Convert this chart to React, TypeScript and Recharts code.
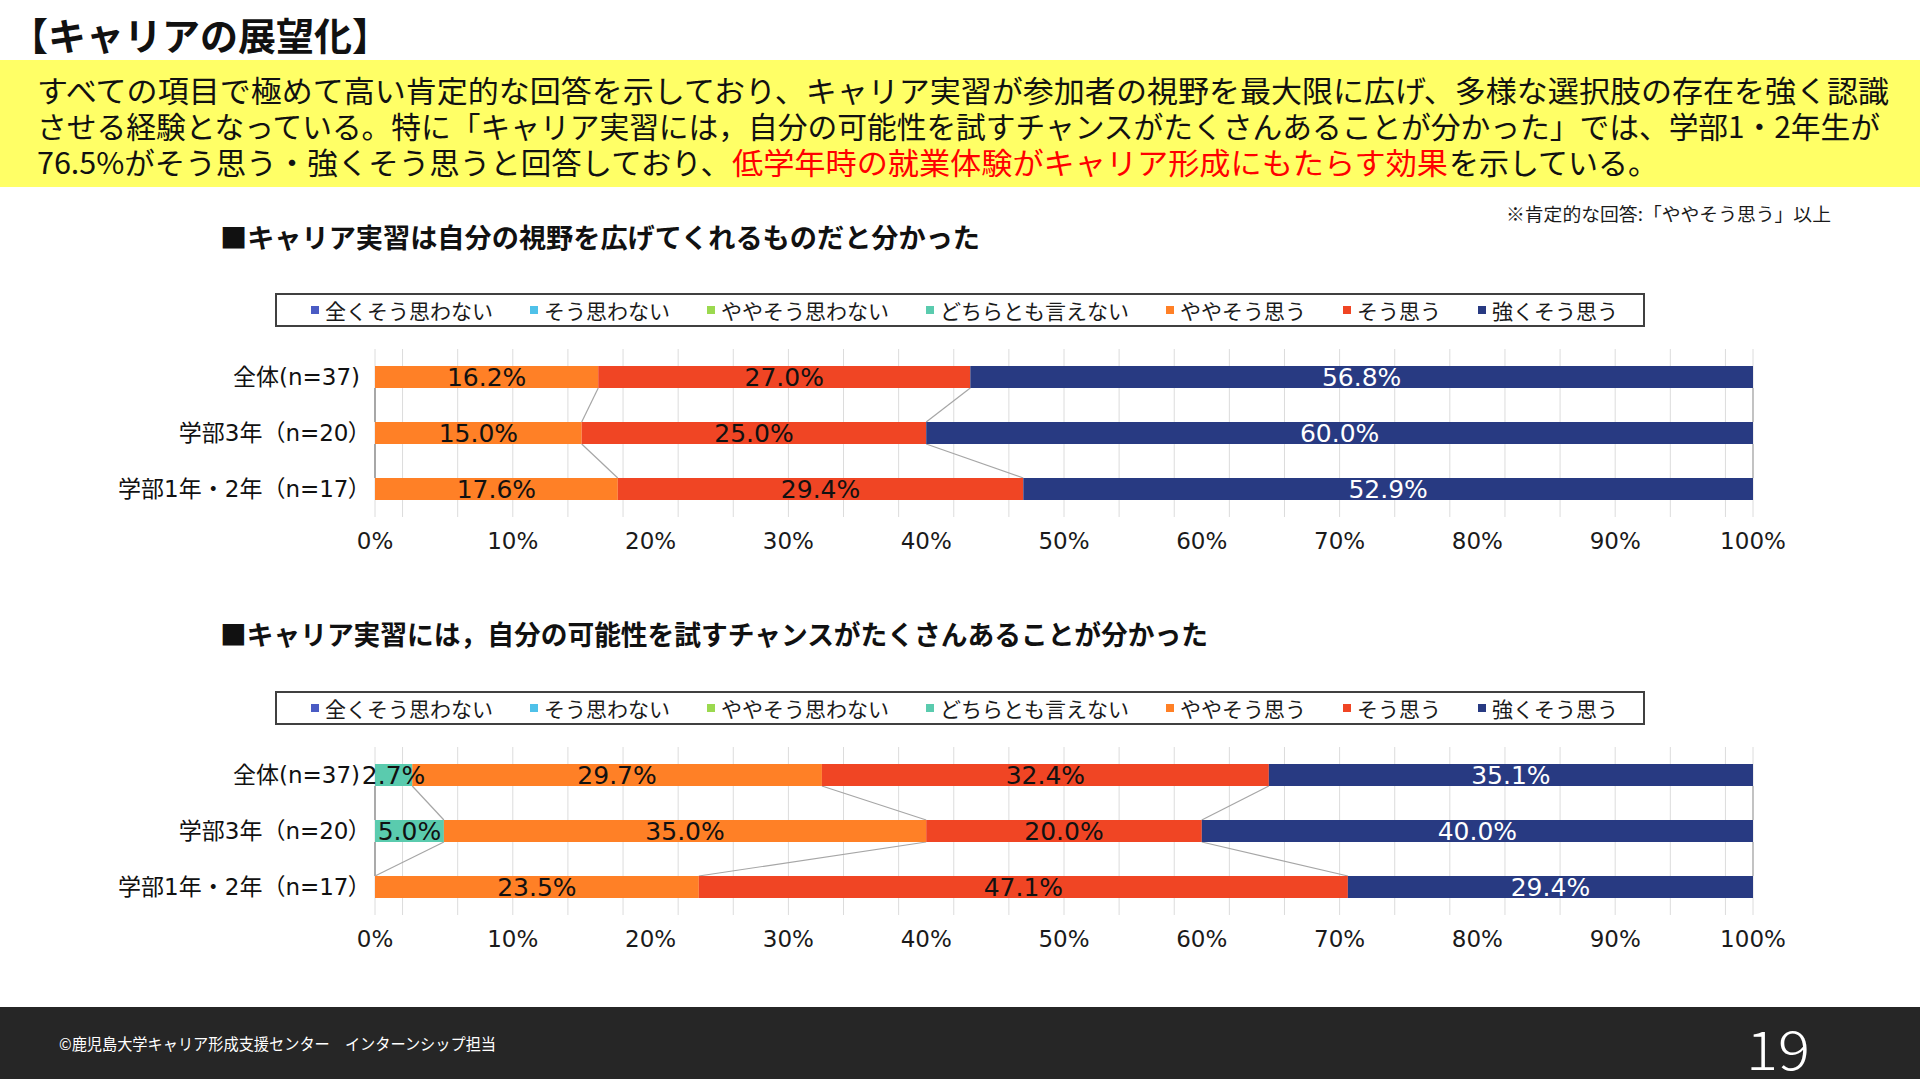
import React from 'react';
import * as R from 'recharts';
import { BarChart, Bar, XAxis, YAxis, CartesianGrid, LabelList } from 'recharts';

// ---- data ----
const categories = ['全体(n=37)', '学部3年（n=20）', '学部1年・2年（n=17）'];

const seriesKeys = ['s1', 's2', 's3', 's4', 's5', 's6', 's7'];
const seriesNames = [
  '全くそう思わない',
  'そう思わない',
  'ややそう思わない',
  'どちらとも言えない',
  'ややそう思う',
  'そう思う',
  '強くそう思う',
];
const seriesColors = ['#4A5BC4', '#4FC1E9', '#9BD94F', '#5ACBAE', '#FF8026', '#F04524', '#283A82'];
const labelColors = ['#111111', '#111111', '#111111', '#111111', '#111111', '#111111', '#FFFFFF'];

// Q1: キャリア実習は自分の視野を広げてくれるものだと分かった (%)
const q1StronglyDisagree = [0, 0, 0];
const q1Disagree = [0, 0, 0];
const q1SlightlyDisagree = [0, 0, 0];
const q1Neutral = [0, 0, 0];
const q1SlightlyAgree = [16.2, 15.0, 17.6];
const q1Agree = [27.0, 25.0, 29.4];
const q1StronglyAgree = [56.8, 60.0, 52.9];

// Q2: キャリア実習には，自分の可能性を試すチャンスがたくさんあることが分かった (%)
const q2StronglyDisagree = [0, 0, 0];
const q2Disagree = [0, 0, 0];
const q2SlightlyDisagree = [0, 0, 0];
const q2Neutral = [2.7, 5.0, 0];
const q2SlightlyAgree = [29.7, 35.0, 23.5];
const q2Agree = [32.4, 20.0, 47.1];
const q2StronglyAgree = [35.1, 40.0, 29.4];

const majorTicks = [0, 0.1, 0.2, 0.3, 0.4, 0.5, 0.6, 0.7, 0.8, 0.9, 1];
const minorTicks = [
  0, 0.02, 0.04, 0.06, 0.08, 0.1, 0.12, 0.14, 0.16, 0.18, 0.2, 0.22, 0.24, 0.26, 0.28, 0.3,
  0.32, 0.34, 0.36, 0.38, 0.4, 0.42, 0.44, 0.46, 0.48, 0.5, 0.52, 0.54, 0.56, 0.58, 0.6,
  0.62, 0.64, 0.66, 0.68, 0.7, 0.72, 0.74, 0.76, 0.78, 0.8, 0.82, 0.84, 0.86, 0.88, 0.9,
  0.92, 0.94, 0.96, 0.98, 1,
];

const FONT = '"Noto Sans CJK JP", "Noto Sans", sans-serif';
const NUM_FONT = '"DejaVu Sans", "Noto Sans CJK JP", sans-serif';
const BAR_SIZE = 22;

type Row = { name: string; [key: string]: number | string };

function buildRows(series: number[][]): Row[] {
  return categories.map((name, i) => {
    const row: Row = { name };
    seriesKeys.forEach((k, s) => {
      row[k] = series[s][i];
    });
    return row;
  });
}

const q1Rows = buildRows([
  q1StronglyDisagree, q1Disagree, q1SlightlyDisagree, q1Neutral, q1SlightlyAgree, q1Agree, q1StronglyAgree,
]);
const q2Rows = buildRows([
  q2StronglyDisagree, q2Disagree, q2SlightlyDisagree, q2Neutral, q2SlightlyAgree, q2Agree, q2StronglyAgree,
]);

// ---- chart geometry ----
const CHART_W = 1920;
const CHART_H = 220;
const MARGIN = { top: 9, right: 167, bottom: 3, left: 20 };
const Y_AXIS_W = 355;
const X_AXIS_H = 40;

const anyR = R as any;
const hasPlotHook = typeof anyR.usePlotArea === 'function';

function usePlot() {
  const fallback = {
    x: MARGIN.left + Y_AXIS_W,
    y: MARGIN.top,
    width: CHART_W - MARGIN.left - MARGIN.right - Y_AXIS_W,
    height: CHART_H - MARGIN.top - MARGIN.bottom - X_AXIS_H,
  };
  const p = hasPlotHook ? anyR.usePlotArea() : null;
  return p && p.width > 0 ? p : fallback;
}

function cumulative(row: Row): number[] {
  const vals = seriesKeys.map((k) => Number(row[k]));
  const total = vals.reduce((a, b) => a + b, 0);
  let run = 0;
  return vals.map((v) => {
    run += v;
    return run / total;
  });
}

// Excel-style series lines joining the segment boundaries of neighbouring bars
function SeriesLines({ rows }: { rows: Row[] }) {
  const plot = usePlot();
  const band = plot.height / rows.length;
  const lines: React.ReactNode[] = [];
  for (let i = 0; i < rows.length - 1; i++) {
    const a = cumulative(rows[i]);
    const b = cumulative(rows[i + 1]);
    const y1 = plot.y + band * (i + 0.5) + BAR_SIZE / 2;
    const y2 = plot.y + band * (i + 1.5) - BAR_SIZE / 2;
    seriesKeys.forEach((k, s) => {
      lines.push(
        <line
          key={`${i}-${k}`}
          x1={plot.x + a[s] * plot.width}
          y1={y1}
          x2={plot.x + b[s] * plot.width}
          y2={y2}
          stroke="#A6A6A6"
          strokeWidth={1.2}
        />
      );
    });
  }
  return <g className="series-lines">{lines}</g>;
}

// Category label; a trailing full-width bracket is set proportionally so the text ends flush
function CategoryTick(props: any) {
  const { x, y, payload } = props;
  const label = String(payload?.value ?? '');
  const closes = label.endsWith('）');
  const head = closes ? label.slice(0, -1) : label;
  return (
    <text
      x={x}
      y={y}
      textAnchor="end"
      dominantBaseline="central"
      fontSize={23}
      fill="#111111"
      fontFamily={NUM_FONT}
    >
      {head}
      {closes && <tspan style={{ fontFeatureSettings: '"palt"' }}>）</tspan>}
    </text>
  );
}

const fmtLabel = (v: any) => (Number(v) > 0 ? `${Number(v).toFixed(1)}%` : '');
const fmtTick = (v: number) => `${Math.round(v * 100)}%`;

function StackedChart({ rows }: { rows: Row[] }) {
  return (
    <BarChart
      width={CHART_W}
      height={CHART_H}
      data={rows}
      layout="vertical"
      stackOffset="expand"
      margin={MARGIN}
      barSize={BAR_SIZE}
    >
      <XAxis xAxisId="minor" type="number" domain={[0, 1]} ticks={minorTicks} hide />
      <CartesianGrid xAxisId="minor" horizontal={false} stroke="#DCDCDC" strokeWidth={1} />
      <XAxis
        type="number"
        domain={[0, 1]}
        ticks={majorTicks}
        interval={0}
        tickFormatter={fmtTick}
        axisLine={false}
        tickLine={false}
        tickSize={0}
        tickMargin={16}
        height={X_AXIS_H}
        tick={{ fontSize: 23, fill: '#1A1A1A', fontFamily: NUM_FONT }}
      />
      <YAxis
        type="category"
        dataKey="name"
        width={Y_AXIS_W}
        interval={0}
        axisLine={false}
        tickLine={false}
        tickSize={0}
        tickMargin={15}
        tick={<CategoryTick />}
      />
      {seriesKeys.map((k, i) => (
        <Bar
          key={k}
          dataKey={k}
          name={seriesNames[i]}
          stackId="total"
          fill={seriesColors[i]}
          isAnimationActive={false}
        >
          <LabelList
            dataKey={k}
            position="center"
            formatter={fmtLabel}
            fill={labelColors[i]}
            fontSize={25}
            fontFamily={NUM_FONT}
          />
        </Bar>
      ))}
      <SeriesLines rows={rows} />
    </BarChart>
  );
}

function LegendBox({ top }: { top: number }) {
  return (
    <div
      style={{
        position: 'absolute',
        left: 275,
        top,
        width: 1370,
        height: 34,
        boxSizing: 'border-box',
        border: '2px solid #404040',
        display: 'flex',
        alignItems: 'center',
        paddingLeft: 34,
        fontFamily: FONT,
      }}
    >
      {seriesNames.map((name, i) => (
        <div
          key={name}
          style={{ display: 'flex', alignItems: 'center', marginRight: i < seriesNames.length - 1 ? 37 : 0 }}
        >
          <span style={{ width: 8, height: 8, background: seriesColors[i], marginRight: 6 }} />
          <span style={{ fontSize: 21, lineHeight: '24px', color: '#1A1A1A', whiteSpace: 'nowrap' }}>{name}</span>
        </div>
      ))}
    </div>
  );
}

export default function App() {
  return (
    <div
      style={{
        position: 'absolute',
        left: 0,
        top: 0,
        width: 1920,
        height: 1079,
        background: '#FFFFFF',
        overflow: 'hidden',
        fontFamily: FONT,
      }}
    >
      <svg width={1920} height={1079} style={{ position: 'absolute', left: 0, top: 0 }} fontFamily={FONT}>
        <text x={10} y={33} fontSize={38} fontWeight={700} fill="#111" dominantBaseline="central" textLength={380} lengthAdjust="spacingAndGlyphs">
          【キャリアの展望化】
        </text>
        <rect x={0} y={60} width={1920} height={127} fill="#FFFF66" />
        <text x={37} y={89} fontSize={30} fill="#111" dominantBaseline="central" textLength={1852} lengthAdjust="spacingAndGlyphs">
          すべての項目で極めて高い肯定的な回答を示しており、キャリア実習が参加者の視野を最大限に広げ、多様な選択肢の存在を強く認識
        </text>
        <text x={37} y={125} fontSize={30} fill="#111" dominantBaseline="central" textLength={1843} lengthAdjust="spacingAndGlyphs">
          させる経験となっている。特に「キャリア実習には，自分の可能性を試すチャンスがたくさんあることが分かった」では、学部1・2年生が
        </text>
        <text x={37} y={161} fontSize={30} fill="#111" dominantBaseline="central" textLength={694} lengthAdjust="spacingAndGlyphs">
          76.5%がそう思う・強くそう思うと回答しており、
        </text>
        <text x={732} y={161} fontSize={30} fill="#FF0000" dominantBaseline="central" textLength={716} lengthAdjust="spacingAndGlyphs">
          低学年時の就業体験がキャリア形成にもたらす効果
        </text>
        <text x={1449} y={161} fontSize={30} fill="#111" dominantBaseline="central" textLength={209} lengthAdjust="spacingAndGlyphs">
          を示している。
        </text>

        <text x={1506} y={213} fontSize={18} fill="#1A1A1A" dominantBaseline="central" textLength={325} lengthAdjust="spacingAndGlyphs">
          ※肯定的な回答:「ややそう思う」以上
        </text>

        <text x={220} y={236} fontSize={27} fontWeight={700} fill="#111" dominantBaseline="central" textLength={760} lengthAdjust="spacingAndGlyphs">
          ■キャリア実習は自分の視野を広げてくれるものだと分かった
        </text>
        <text x={220} y={633} fontSize={27} fontWeight={700} fill="#111" dominantBaseline="central" textLength={988} lengthAdjust="spacingAndGlyphs">
          ■キャリア実習には，自分の可能性を試すチャンスがたくさんあることが分かった
        </text>

        <rect x={0} y={1007} width={1920} height={72} fill="#262626" />
        <text x={59} y={1043} fontSize={16} fill="#FFFFFF" dominantBaseline="central" textLength={437} lengthAdjust="spacingAndGlyphs">
          ©鹿児島大学キャリア形成支援センター　インターンシップ担当
        </text>
        <text x={1746} y={1046} fontSize={54} fontWeight={300} fill="#FFFFFF" dominantBaseline="central" textLength={64} lengthAdjust="spacingAndGlyphs">
          19
        </text>
      </svg>

      <LegendBox top={293} />
      <div style={{ position: 'absolute', left: 0, top: 340 }}>
        <StackedChart rows={q1Rows} />
      </div>

      <LegendBox top={691} />
      <div style={{ position: 'absolute', left: 0, top: 738 }}>
        <StackedChart rows={q2Rows} />
      </div>
    </div>
  );
}
